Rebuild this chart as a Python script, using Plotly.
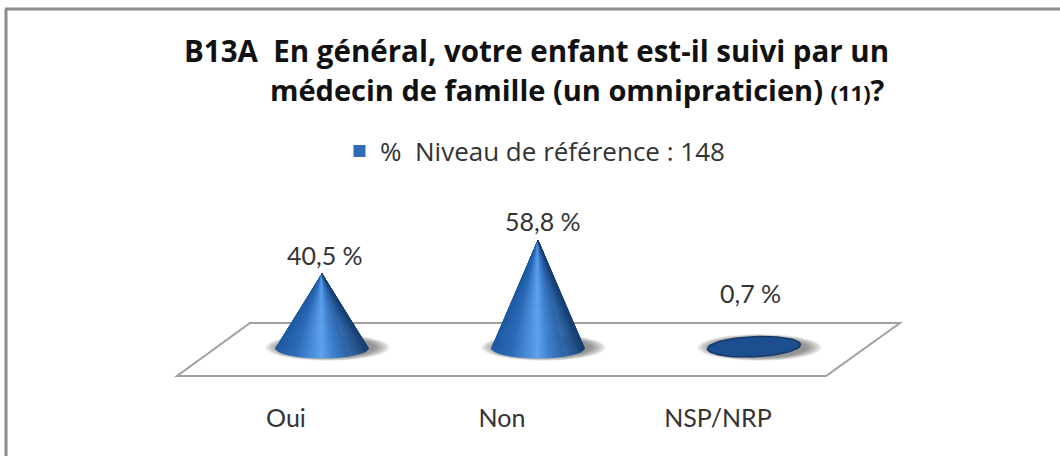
import numpy as np
import plotly.graph_objects as go

# ---- data ----
categories = ["Oui", "Non", "NSP/NRP"]
values = [40.5, 58.8, 0.7]
value_labels = ["40,5 %", "58,8 %", "0,7 %"]
series_name = "%  Niveau de référence : 148"
title_line1 = "B13A  En général, votre enfant est-il suivi par un"
title_line2 = "médecin de famille (un omnipraticien) <span style='font-size:22px'>(11)</span>?"

# ---- page geometry ----
W, H = 1060, 456
PLOT_BOTTOM = 401
X0_PX, X_STEP_PX = 322.0, 216.0
Y0_PX, Y_PX_PER_UNIT = 348.0, 1.83
x_range = [(0 - X0_PX) / X_STEP_PX, (W - X0_PX) / X_STEP_PX]
y_range = [(Y0_PX - PLOT_BOTTOM) / Y_PX_PER_UNIT, Y0_PX / Y_PX_PER_UNIT]
BASE_A = 46.5 / X_STEP_PX       # ellipse half width, in axis units
BASE_B = 10.0 / Y_PX_PER_UNIT   # ellipse half height, in axis units
LABEL_SHIFT = [2, 2, 37]        # px above the top of each mark
LABEL_XSHIFT = [3, 5, -4]
TICK_OFFSET = -0.167            # category labels sit left of the marks
FONT = "Lato"
TITLE_FONT = "Open Sans"


def hex_lerp(stops, t):
    pos = [s[0] for s in stops]
    rgb = [[int(s[1][k:k + 2], 16) for s in stops] for k in (1, 3, 5)]
    return "rgb(%d,%d,%d)" % tuple(np.interp(t, pos, c) for c in rgb)


# Colour round the cone, from the left edge (0) to the right edge (1)
cone_stops = [(0, "#1f5aa0"), (0.2, "#2a6ab8"), (0.5, "#5ea3ee"),
              (0.62, "#3f82d0"), (0.85, "#24599c"), (1, "#173f70")]

fig = go.Figure()

# soft shadows under each mark
for i, v in enumerate(values):
    for k, scale in enumerate(np.linspace(1.34, 1.02, 9)):
        t = np.linspace(0, 2 * np.pi, 73)
        fig.add_trace(go.Scatter(
            x=i + 0.025 + BASE_A * scale * np.cos(t),
            y=0.3 + BASE_B * scale * np.sin(t),
            mode="lines", fill="toself", line=dict(width=0),
            fillcolor="rgba(70,70,70,0.085)", hoverinfo="skip", showlegend=False))

# marks: a fan of wedges from the apex round the visible base arc
N = 80
for i, v in enumerate(values):
    if v < 5:
        t = np.linspace(0, 2 * np.pi, 73)
        fig.add_trace(go.Scatter(
            x=i + BASE_A * np.cos(t), y=v + BASE_B * np.sin(t) + 1.1 * np.cos(t),
            mode="lines", fill="toself", fillcolor="#1d4f90",
            line=dict(color="#17396a", width=1.5), hoverinfo="skip", showlegend=False))
        continue
    edges = np.linspace(np.pi, 2 * np.pi, N + 1)
    for j in range(N):
        a = np.linspace(edges[j], edges[j + 1], 3)
        xs = np.r_[i, i + BASE_A * np.cos(a), i]
        ys = np.r_[v, BASE_B * np.sin(a), v]
        col = hex_lerp(cone_stops, (np.cos(a[1]) + 1) / 2)
        fig.add_trace(go.Scatter(
            x=xs, y=ys, mode="lines", fill="toself", fillcolor=col,
            line=dict(color=col, width=0.8), hoverinfo="skip", showlegend=False))

# legend entry
fig.add_trace(go.Scatter(
    x=[None], y=[None], mode="markers", name=series_name,
    marker=dict(symbol="square", size=12, color="#2f6db5"), showlegend=True))

annotations = [
    dict(x=i, y=v, xref="x", yref="y", text=lab, showarrow=False, yanchor="bottom",
         yshift=s, xshift=dx, font=dict(size=25, color="#333333", family=FONT))
    for i, (v, lab, s, dx) in enumerate(zip(values, value_labels, LABEL_SHIFT, LABEL_XSHIFT))
]
annotations.append(dict(
    x=268 / W, y=1 - 89 / PLOT_BOTTOM, xref="paper", yref="paper", xanchor="left",
    yanchor="middle", text="<b>%s</b>" % title_line2, showarrow=False,
    font=dict(size=29, color="#111111", family=TITLE_FONT)))

shapes = [
    # frame: top and left edges only
    dict(type="line", xref="paper", yref="paper", x0=5 / W, x1=1, y0=1 - 9 / PLOT_BOTTOM,
         y1=1 - 9 / PLOT_BOTTOM, line=dict(color="#8c8c8c", width=3), layer="below"),
    dict(type="line", xref="paper", yref="paper", x0=6 / W, x1=6 / W, y0=1 - 9 / PLOT_BOTTOM,
         y1=1 - H / PLOT_BOTTOM, line=dict(color="#8c8c8c", width=3), layer="below"),
    # floor of the chart
    dict(type="path", xref="paper", yref="paper", layer="below",
         path="M %f %f L %f %f L %f %f L %f %f Z" % (
             177 / W, 1 - 376 / PLOT_BOTTOM, 826 / W, 1 - 376 / PLOT_BOTTOM,
             900 / W, 1 - 323 / PLOT_BOTTOM, 250 / W, 1 - 323 / PLOT_BOTTOM),
         line=dict(color="#a0a0a0", width=2)),
]

fig.update_layout(
    width=W, height=H, autosize=False, showlegend=True,
    margin=dict(l=0, r=0, t=0, b=H - PLOT_BOTTOM, pad=0),
    paper_bgcolor="white", plot_bgcolor="rgba(0,0,0,0)",
    title=dict(text="<b>%s</b>" % title_line1, x=184 / W, xanchor="left", xref="paper",
               y=1 - 59 / H, yanchor="middle", yref="paper",
               font=dict(size=29.5, color="#111111", family=TITLE_FONT)),
    legend=dict(orientation="h", x=339 / W, xanchor="left", y=1 - 151 / PLOT_BOTTOM,
                yanchor="middle", bgcolor="rgba(0,0,0,0)",
                font=dict(size=26, color="#333333", family=TITLE_FONT), itemwidth=31),
    xaxis=dict(range=x_range, showgrid=False, zeroline=False, showline=False,
               tickmode="array",
               tickvals=[i + TICK_OFFSET for i in range(len(categories))],
               ticktext=categories, ticks="",
               tickfont=dict(size=25, color="#333333", family=FONT)),
    yaxis=dict(range=y_range, visible=False),
    shapes=shapes, annotations=annotations,
)

fig.write_html("out.html", post_script="document.body.style.margin='0';",
               config=dict(displayModeBar=False))
